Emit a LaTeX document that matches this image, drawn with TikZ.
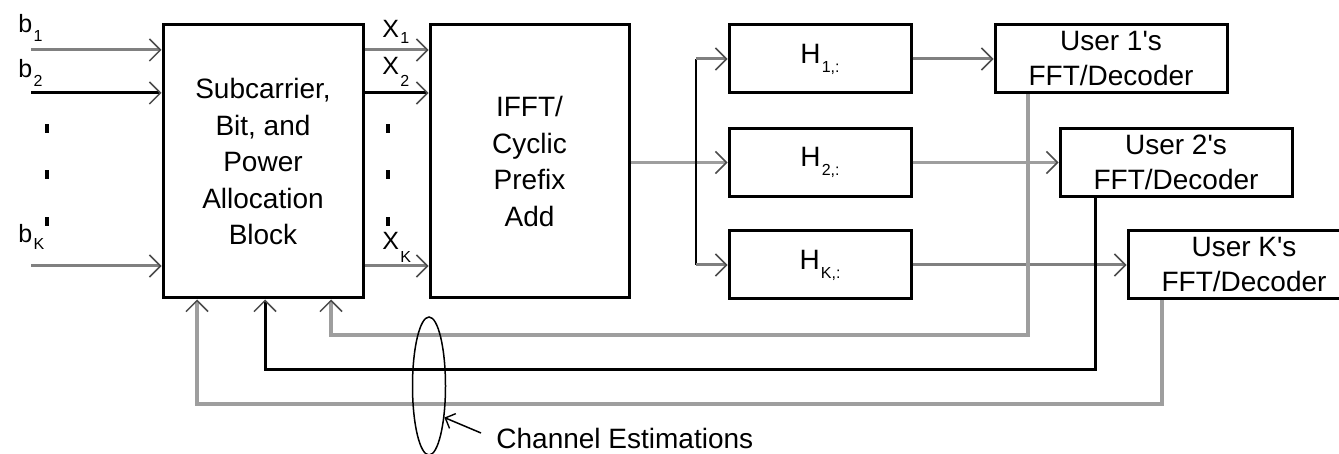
\documentclass[tikz,border=0pt]{standalone}
\usepackage{fontspec}
\setmainfont{Liberation Sans}
\usetikzlibrary{arrows.meta,shapes.geometric}
\newcommand{\sbs}[2][4.5pt]{\kern0.6pt\raisebox{-#1}{\fontsize{8}{8}\selectfont #2}}
\begin{document}
\begin{tikzpicture}[x=0.5pt,y=-0.5pt,
  box/.style={draw=black,line width=1.5pt,inner sep=0pt,align=center,
    font=\fontsize{14}{18.25}\selectfont},
  ubox/.style={box,minimum width=116pt,minimum height=34pt,
    font=\fontsize{14}{17.5}\selectfont},
  hbox/.style={box,minimum width=91pt,minimum height=34pt},
  lab/.style={anchor=base west,inner sep=0pt,font=\fontsize{12.5}{14}\selectfont},
  dotm/.style={fill=black,minimum width=2pt,minimum height=4.5pt,inner sep=0pt},
  arr/.style={-{Straight Barb[length=5.5pt,width=11pt,line width=0.75pt,color=black!70]}},
  mg/.style={draw=black!50,line width=1.5pt,arr},
  lg/.style={draw=black!38,line width=1.6pt,arr},
  bk/.style={draw=black,line width=1.5pt,arr}]
\clip (0,0) rectangle (1339,454);
\fill[white] (0,0) rectangle (1339,454);
% blocks
\node[box,minimum width=100pt,minimum height=136.5pt] (A) at (263,161.5)
  {Subcarrier,\\Bit, and\\Power\\Allocation\\Block};
\node[box,minimum width=99.5pt,minimum height=136.5pt] (B) at (529.5,161.5)
  {IFFT/\\Cyclic\\Prefix\\Add};
\node[hbox] (H1) at (820,59) {H\sbs{1,:}};
\node[hbox] (H2) at (820,162.5) {H\sbs{2,:}};
\node[hbox] (HK) at (820,265) {H\sbs{K,:}};
\node[ubox] (U1) at (1111,59) {User 1\textquotesingle s\\FFT/Decoder};
\node[ubox] (U2) at (1176,162.5) {User 2\textquotesingle s\\FFT/Decoder};
\node[ubox] (UK) at (1244,265) {User K\textquotesingle s\\FFT/Decoder};
% input labels
\node[lab] (lb1) at (18,33) {b\sbs{1}};
\node[lab] (lb2) at (18,78) {b\sbs{2}};
\node[lab] (lbK) at (18,243) {b\sbs[3.5pt]{K}};
\node[lab] (lx1) at (382,38) {X\sbs[3pt]{1}};
\node[lab] (lx2) at (382,75) {X\sbs[6pt]{2}};
\node[lab] (lxK) at (382,250) {X\sbs[6pt]{K}};
% dots
\node[dotm] (dl1) at (47,129) {};
\node[dotm] (dl2) at (47,175) {};
\node[dotm] (dl3) at (47,222) {};
\node[dotm] (dr1) at (388,129) {};
\node[dotm] (dr2) at (388,175) {};
\node[dotm] (dr3) at (388,222) {};
% inputs
\coordinate (b1s) at (31,50);
\coordinate (b2s) at (31,93);
\coordinate (bKs) at (31,266);
\draw[mg] (b1s) -- (b1s -| A.west);
\draw[bk] (b2s) -- (b2s -| A.west);
\draw[mg] (bKs) -- (bKs -| A.west);
% outputs X
\draw[mg] (A.east |- b1s) -- (B.west |- b1s);
\draw[bk] (A.east |- b2s) -- (B.west |- b2s);
\draw[mg] (A.east |- bKs) -- (B.west |- bKs);
% IFFT to channels
\coordinate (br) at (696,162.5);
\draw[lg] (B.east |- H2) -- (H2.west);
\draw[black,line width=1pt] (H1.west -| br) -- (HK.west -| br);
\draw[mg] (H1.west -| br) -- (H1.west);
\draw[mg] (HK.west -| br) -- (HK.west);
% channels to users
\draw[mg] (H1.east) -- (U1.west);
\draw[lg] (H2.east) -- (U2.west);
\draw[mg] (HK.east) -- (UK.west);
% feedback
\coordinate (c1) at (1028,335); \coordinate (d1) at (331,335);
\coordinate (c2) at (1095,369); \coordinate (d2) at (265,369);
\coordinate (c3) at (1162,404); \coordinate (d3) at (197,404);
\draw[lg] (U1.south -| c1) -- (c1) -- (d1) -- (d1 |- A.south);
\draw[bk] (U2.south -| c2) -- (c2) -- (d2) -- (d2 |- A.south);
\draw[lg] (UK.south -| c3) -- (c3) -- (d3) -- (d3 |- A.south);
% channel estimations
\node[draw=black,ellipse,line width=0.75pt,inner sep=0pt,
  minimum width=16.5pt,minimum height=69pt] (E) at (429,386) {};
\node[anchor=base west,inner sep=0pt,font=\fontsize{14}{16}\selectfont] (CE) at (496,448)
  {Channel Estimations};
\coordinate (cea) at (481,433);
\draw[black,line width=0.75pt,-{Straight Barb[length=4pt,width=8pt,line width=0.7pt]}]
  (cea) -- (E.-64);
\end{tikzpicture}
\end{document}
